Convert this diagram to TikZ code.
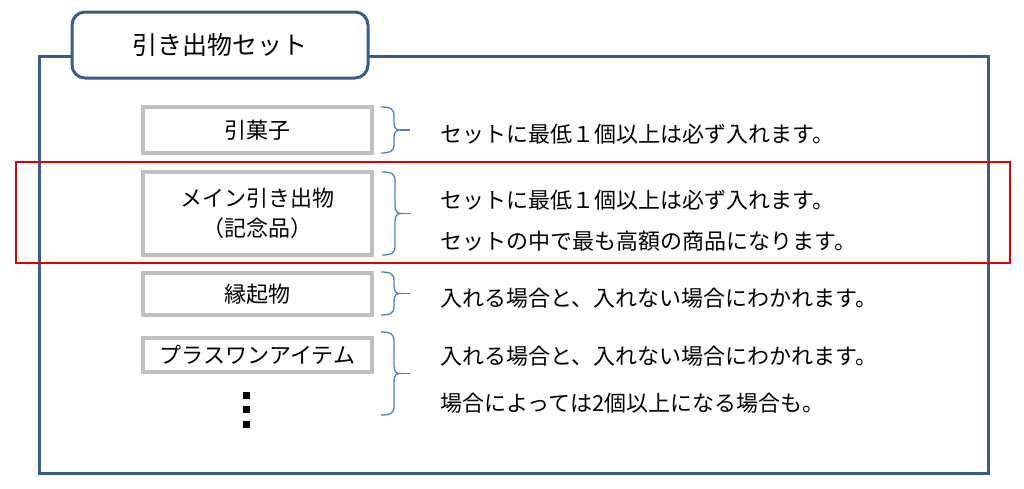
\documentclass[tikz,border=0pt]{standalone}
\usepackage{fontspec}
\setmainfont{Noto Sans CJK JP}
\usetikzlibrary{calc}
\definecolor{framec}{RGB}{56,93,138}
\definecolor{bracec}{RGB}{79,129,189}
\definecolor{boxc}{RGB}{191,191,191}
\definecolor{redc}{RGB}{228,0,0}
\newcommand\rbr[3]{%
  \draw[bracestyle] (#1,#2) .. controls ({#1+10},#2) and ({#1+13},{#2+2}) .. ({#1+13},{#2+9})
    -- ({#1+13},{(#2+#3)/2-8}) .. controls ({#1+13},{(#2+#3)/2-2}) and ({#1+15},{(#2+#3)/2}) .. ({#1+19},{(#2+#3)/2})
    .. controls ({#1+15},{(#2+#3)/2}) and ({#1+13},{(#2+#3)/2+2}) .. ({#1+13},{(#2+#3)/2+8})
    -- ({#1+13},{#3-9}) .. controls ({#1+13},{#3-2}) and ({#1+10},#3) .. (#1,#3);
  \draw[bracestyle] ({#1+19},{(#2+#3)/2}) -- ({#1+29},{(#2+#3)/2});}
\begin{document}
\begin{tikzpicture}[x=1pt,y=-1pt,
  bracestyle/.style={draw=bracec,line width=1.3pt},
  itembox/.style={draw=boxc,line width=3.5pt,fill=white,minimum width=229pt,inner sep=0pt,font=\fontsize{22}{30}\selectfont,align=center},
  desc/.style={anchor=west,inner sep=0pt,font=\fontsize{22}{25}\selectfont},
  dotsq/.style={fill=black,minimum size=7pt,inner sep=0pt}]
\useasboundingbox (0,0) rectangle (1024,488);
\fill[white] (0,0) rectangle (1024,488);
% outer frame
\draw[framec,line width=3pt] (39,56) rectangle (988,473);
% title tab
\node[draw=framec,line width=3pt,fill=white,rounded corners=13pt,minimum width=296pt,minimum height=66pt,inner sep=0pt,font=\fontsize{25}{28}\selectfont] (title) at (220,45) {引き出物セット};
% highlight
\draw[redc,line width=2.6pt] (16,162) rectangle (1010,263);
% item boxes
\node[itembox,minimum height=46pt] (b1) at (257.5,130) {引菓子};
\node[itembox,minimum height=83pt] (b2) at (257.5,213.5) {メイン引き出物\\（記念品）};
\node[itembox,minimum height=42pt] (b3) at (257.5,294) {縁起物};
\node[itembox,minimum height=34pt] (b4) at (257.5,355) {プラスワンアイテム};
% dots
\node[dotsq] (d1) at (246,395) {};
\node[dotsq] (d2) at (246,409) {};
\node[dotsq] (d3) at (246,424) {};
% braces
\rbr{381}{107}{153}
\rbr{382}{172}{255}
\rbr{381}{272}{315}
\rbr{381}{332}{415}
% descriptions
\node[desc] (t1) at (440,134) {セットに最低１個以上は必ず入れます。};
\node[desc] (t2) at (440,200) {セットに最低１個以上は必ず入れます。};
\node[desc] (t3) at (440,241) {セットの中で最も高額の商品になります。};
\node[desc] (t4) at (440,298) {入れる場合と、入れない場合にわかれます。};
\node[desc] (t5) at (440,356) {入れる場合と、入れない場合にわかれます。};
\node[desc] (t6) at (440,403) {場合によっては2個以上になる場合も。};
\end{tikzpicture}
\end{document}
